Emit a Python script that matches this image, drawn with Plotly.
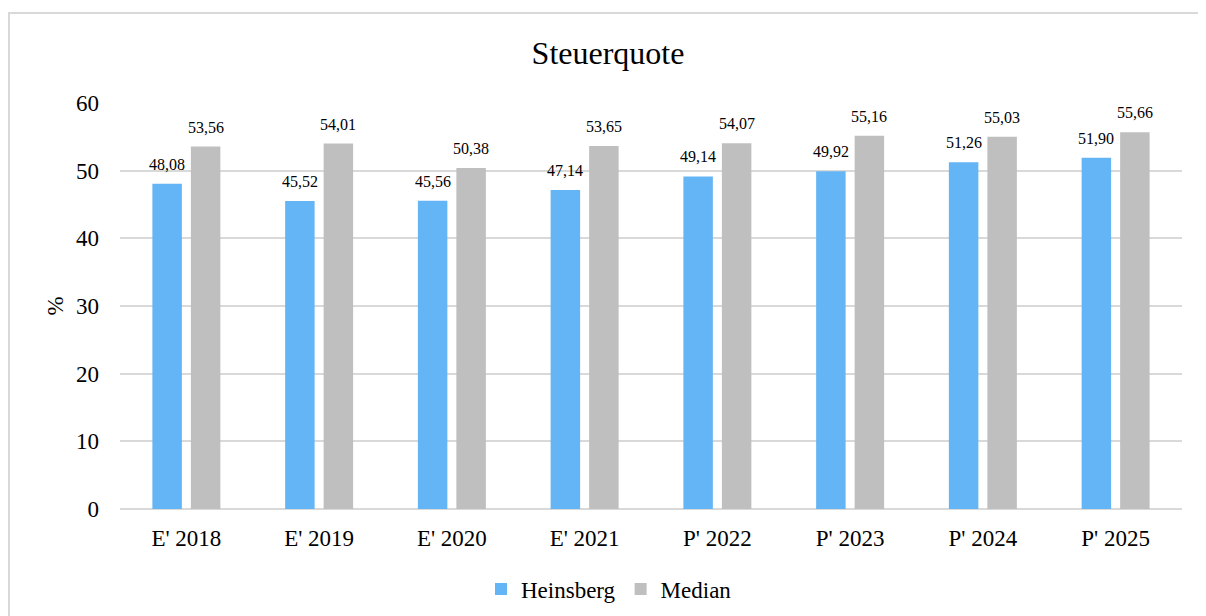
import plotly.graph_objects as go

categories = ["E' 2018", "E' 2019", "E' 2020", "E' 2021", "P' 2022", "P' 2023", "P' 2024", "P' 2025"]
heinsberg = [48.08, 45.52, 45.56, 47.14, 49.14, 49.92, 51.26, 51.90]
median = [53.56, 54.01, 50.38, 53.65, 54.07, 55.16, 55.03, 55.66]
y_ticks = [0, 10, 20, 30, 40, 50, 60]

FONT = "Liberation Serif, Times New Roman, serif"
BLUE = "#64B5F6"
GREY = "#BFBFBF"

def fmt(v):
    return f"{v:.2f}".replace(".", ",")

# page offset (browser default body margin)
OFF = 8
W, H = 1206, 616
# desired on-screen plot area
SL, SR, ST, SB = 120, 1182, 103, 509
L, T = SL - OFF, ST - OFF
R = W - (SR - OFF)
B = H - (SB - OFF)
pw, ph = SR - SL, SB - ST

BARGAP = 0.42
GROUPGAP = 0.234
cat_w = pw / len(categories)
slot = (1 - BARGAP) * cat_w / 2

fig = go.Figure()
fig.add_trace(go.Bar(x=categories, y=heinsberg, name="Heinsberg",
                     marker=dict(color=BLUE, line=dict(width=0))))
fig.add_trace(go.Bar(x=categories, y=median, name="Median",
                     marker=dict(color=GREY, line=dict(width=0))))

annotations = []
for series, sign in ((heinsberg, -1), (median, 1)):
    for c, v in zip(categories, series):
        annotations.append(dict(x=c, y=v, xref="x", yref="y", text=fmt(v), showarrow=False,
                                xshift=sign * slot / 2, yshift=9, yanchor="bottom",
                                font=dict(family=FONT, size=16, color="black")))

fig.update_layout(
    width=W, height=H, autosize=False,
    margin=dict(l=L, r=R, t=T, b=B, autoexpand=False),
    paper_bgcolor="white", plot_bgcolor="white",
    font=dict(family=FONT, color="black", size=23),
    title=dict(text="Steuerquote", x=(608 - OFF) / W, xanchor="center", y=1 - (53 - OFF) / H,
               yanchor="middle", font=dict(family=FONT, size=32, color="black")),
    barmode="group", bargap=BARGAP, bargroupgap=GROUPGAP,
    showlegend=True,
    legend=dict(orientation="h", x=(609 - SL) / pw, xanchor="center",
                y=-(589 - SB) / ph, yanchor="middle",
                font=dict(family=FONT, size=23, color="black"),
                traceorder="normal"),
    xaxis=dict(showgrid=False, showline=False, ticks="", tickfont=dict(family=FONT, size=23),
               ticklabelstandoff=13, tickangle=0, automargin=False),
    yaxis=dict(range=[0, 60], tickvals=y_ticks, showgrid=True, gridcolor="#D9D9D9", gridwidth=1.5,
               zeroline=True, zerolinecolor="#D9D9D9", zerolinewidth=2,
               showline=False, ticks="", tickfont=dict(family=FONT, size=23),
               ticklabelstandoff=20, automargin=False,
               title=dict(text="%", font=dict(family=FONT, size=23), standoff=5)),
    annotations=annotations,
    shapes=[dict(type="rect", xref="paper", yref="paper",
                 x0=(OFF + 1 - SL) / pw, x1=(W + 20 - SL) / pw,
                 y0=-(H + 20 - SB) / ph, y1=1 + (ST - 13) / ph,
                 line=dict(color="#D9D9D9", width=2), fillcolor="rgba(0,0,0,0)", layer="below")],
)

fig.write_html("out.html")
